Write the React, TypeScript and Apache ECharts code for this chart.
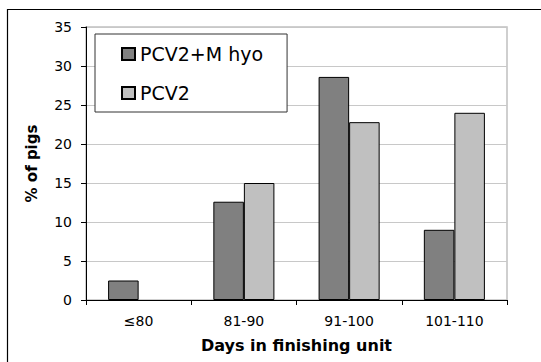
import React, { useEffect, useRef } from "react";
import * as echarts from "echarts";

const categories = ["≤80", "81-90", "91-100", "101-110"];
const seriesNames = ["PCV2+M hyo", "PCV2"];
const pcv2MhyoValues = [2.5, 12.6, 28.6, 9.0];
const pcv2Values = [0, 15.0, 22.8, 24.0];
const yTicks = { min: 0, max: 35, interval: 5 };
const xAxisTitle = "Days in finishing unit";
const yAxisTitle = "% of pigs";

const toBarData = (vals: number[]) =>
  vals.map((v) => (v === 0 ? { value: v, itemStyle: { borderWidth: 0 } } : v));

export default function App() {
  const ref = useRef<HTMLDivElement>(null);
  useEffect(() => {
    if (!ref.current) return;
    const chart = echarts.init(ref.current, null, { renderer: "svg" });
    const font = "DejaVu Sans";
    chart.setOption({
      animation: false,
      backgroundColor: "#ffffff",
      graphic: [
        {
          type: "rect",
          shape: { x: 7.5, y: 9.5, width: 560, height: 380 },
          style: { fill: "none", stroke: "#000", lineWidth: 1.2 },
          silent: true,
        },
      ],
      grid: {
        left: 86,
        right: 34,
        top: 27,
        bottom: 62,
        show: true,
        borderColor: "#c0c0c0",
        borderWidth: 1.5,
        backgroundColor: "transparent",
      },
      legend: {
        left: 95,
        top: 34,
        orient: "vertical",
        backgroundColor: "#fff",
        borderColor: "#333",
        borderWidth: 1,
        padding: [10, 24, 9, 26],
        itemGap: 19,
        itemWidth: 13,
        itemHeight: 12,
        icon: "rect",
        textStyle: { fontFamily: font, fontSize: 19, color: "#000", lineHeight: 20 },
        data: seriesNames,
      },
      xAxis: {
        type: "category",
        data: categories,
        axisLine: { lineStyle: { color: "#000", width: 1 } },
        axisTick: { show: true, length: 5, lineStyle: { color: "#000" } },
        axisLabel: { fontFamily: font, fontSize: 14, color: "#000", margin: 14 },
        name: xAxisTitle,
        nameLocation: "middle",
        nameGap: 37,
        nameTextStyle: { fontFamily: font, fontSize: 16, fontWeight: "bold", color: "#000" },
        splitLine: { show: false },
      },
      yAxis: {
        type: "value",
        min: yTicks.min,
        max: yTicks.max,
        interval: yTicks.interval,
        axisLine: { show: true, lineStyle: { color: "#000", width: 1 } },
        axisTick: { show: true, length: 5, lineStyle: { color: "#000" } },
        axisLabel: { fontFamily: font, fontSize: 14, color: "#000", margin: 14 },
        splitLine: { show: true, lineStyle: { color: "#c8c8c8", width: 1 } },
        name: yAxisTitle,
        nameLocation: "middle",
        nameGap: 47,
        nameRotate: 90,
        nameTextStyle: { fontFamily: font, fontSize: 15, fontWeight: "bold", color: "#000" },
      },
      series: [
        {
          name: seriesNames[0],
          type: "bar",
          data: toBarData(pcv2MhyoValues),
          barGap: "0%",
          barCategoryGap: "42%",
          itemStyle: { color: "#808080", borderColor: "#000", borderWidth: 1 },
        },
        {
          name: seriesNames[1],
          type: "bar",
          data: toBarData(pcv2Values),
          barGap: "0%",
          barCategoryGap: "42%",
          itemStyle: { color: "#c0c0c0", borderColor: "#000", borderWidth: 1 },
        },
      ],
    });
    return () => chart.dispose();
  }, []);
  return (
    <div
      ref={ref}
      style={{ position: "absolute", left: 0, top: 0, width: 541, height: 362 }}
    />
  );
}
